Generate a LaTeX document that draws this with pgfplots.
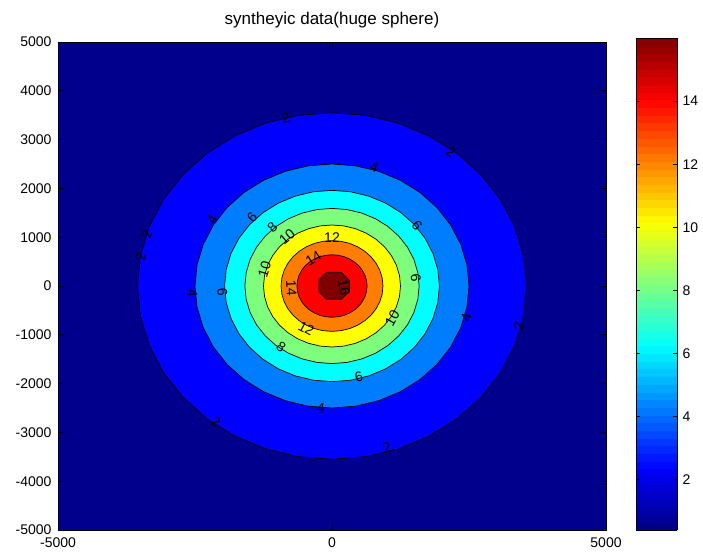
\documentclass[border=0pt]{standalone}
\usepackage{fontspec}
\setmainfont{Liberation Sans}
\usepackage{pgfplots}
\usepackage{pgfplotstable}
\pgfplotsset{compat=1.18}

% fill colours of the contour bands (jet)
\definecolor{lev0}{RGB}{0,0,140}
\definecolor{lev2}{RGB}{0,0,255}
\definecolor{lev4}{RGB}{0,125,255}
\definecolor{lev6}{RGB}{0,255,255}
\definecolor{lev8}{RGB}{125,255,125}
\definecolor{lev10}{RGB}{255,255,0}
\definecolor{lev12}{RGB}{255,125,0}
\definecolor{lev14}{RGB}{255,0,0}
\definecolor{lev16}{RGB}{128,0,0}

% contour outline shape (unit radius, 10 degree steps)
\pgfplotstableread{
c s
1.0000 0.0000
0.9848 0.1736
0.9397 0.3420
0.8660 0.5000
0.7660 0.6428
0.6428 0.7660
0.5000 0.8660
0.3420 0.9397
0.1736 0.9848
0.0000 1.0000
-0.1736 0.9848
-0.3420 0.9397
-0.5000 0.8660
-0.6428 0.7660
-0.7660 0.6428
-0.8660 0.5000
-0.9397 0.3420
-0.9848 0.1736
-1.0000 0.0000
-0.9848 -0.1736
-0.9397 -0.3420
-0.8660 -0.5000
-0.7660 -0.6428
-0.6428 -0.7660
-0.5000 -0.8660
-0.3420 -0.9397
-0.1736 -0.9848
0.0000 -1.0000
0.1736 -0.9848
0.3420 -0.9397
0.5000 -0.8660
0.6428 -0.7660
0.7660 -0.6428
0.8660 -0.5000
0.9397 -0.3420
0.9848 -0.1736
1.0000 0.0000
}\unitcircle

% innermost contour (level 16), octagonal on the grid
\pgfplotstableread{
x y
320 110
170 280
-100 280
-240 130
-240 -110
-100 -270
170 -270
320 -110
320 110
}\peak

\begin{document}
\begin{tikzpicture}
\begin{axis}[
  at={(58pt,24pt)}, anchor=south west,
  width=548pt, height=488pt, scale only axis,
  xmin=-5000, xmax=5000, ymin=-5000, ymax=5000,
  xtick={-5000,0,5000},
  ytick={-5000,-4000,...,5000},
  tick align=inside,
  major tick length=5pt,
  tick style={black, line width=0.6pt},
  axis line style={black, line width=0.8pt},
  axis background/.style={fill=lev0},
  ticklabel style={font=\fontsize{14}{14}\selectfont},
  /pgf/number format/assume math mode=true,
  /pgf/number format/set thousands separator={},
  /pgf/number format/1000 sep={},
  yticklabel style={xshift=-3pt},
  xticklabel style={yshift=-4pt},
  title={syntheyic data(huge sphere)},
  title style={font=\fontsize{17}{17}\selectfont, at={(0.5,1)}, anchor=base, yshift=11pt},
  colormap/jet,
  point meta min=0.4, point meta max=16,
  colorbar sampled,
  colorbar style={
    at={(1.055,1.008)}, anchor=north west,
    scale only axis,
    width=41pt, height=492pt,
    samples=65,
    ytick={2,4,...,14},
    tick align=inside,
    major tick length=4pt,
    tick style={black, line width=0.6pt},
    axis line style={black, line width=0.8pt},
    yticklabel pos=right,
    yticklabel style={font=\fontsize{14}{14}\selectfont, xshift=2pt},
    /pgf/number format/assume math mode=true,
  },
  clip=true,
]
% filled contour bands, outermost level first
\addplot[draw=black, line width=0.7pt, fill=lev2]  table[x expr=3550*\thisrow{c}, y expr=3550*\thisrow{s}] {\unitcircle};
\addplot[draw=black, line width=0.7pt, fill=lev4]  table[x expr=2500*\thisrow{c}, y expr=2500*\thisrow{s}] {\unitcircle};
\addplot[draw=black, line width=0.7pt, fill=lev6]  table[x expr=1960*\thisrow{c}, y expr=1960*\thisrow{s}] {\unitcircle};
\addplot[draw=black, line width=0.7pt, fill=lev8]  table[x expr=1590*\thisrow{c}, y expr=1590*\thisrow{s}] {\unitcircle};
\addplot[draw=black, line width=0.7pt, fill=lev10] table[x expr=1250*\thisrow{c}, y expr=1250*\thisrow{s}] {\unitcircle};
\addplot[draw=black, line width=0.7pt, fill=lev12] table[x expr=930*\thisrow{c},  y expr=930*\thisrow{s}]  {\unitcircle};
\addplot[draw=black, line width=0.7pt, fill=lev14] table[x expr=640*\thisrow{c},  y expr=640*\thisrow{s}]  {\unitcircle};
\addplot[draw=black, line width=0.7pt, fill=lev16] table[x=x, y=y] {\peak};

% contour labels
\begin{scope}[every node/.style={font=\fontsize{14}{14}\selectfont, inner sep=0pt}]
\node[rotate=14]  at (axis cs:-840,3440) {2};
\node[rotate=-38] at (axis cs:2170,2750) {2};
\node[rotate=73]  at (axis cs:-3380,1050) {2};
\node[rotate=80]  at (axis cs:-3490,590) {2};
\node[rotate=76]  at (axis cs:3410,-840) {2};
\node[rotate=-37] at (axis cs:-2120,-2790) {2};
\node[rotate=17]  at (axis cs:1000,-3320) {2};
\node[rotate=-18] at (axis cs:770,2440) {4};
\node[rotate=58]  at (axis cs:-2190,1350) {4};
\node[rotate=-87] at (axis cs:-2550,-140) {4};
\node[rotate=75]  at (axis cs:2450,-640) {4};
\node[rotate=-5]  at (axis cs:-200,-2500) {4};
\node[rotate=46]  at (axis cs:-1460,1410) {6};
\node[rotate=-51] at (axis cs:1550,1250) {6};
\node[rotate=-87] at (axis cs:-2000,-120) {6};
\node[rotate=-84] at (axis cs:1530,160) {6};
\node[rotate=15]  at (axis cs:490,-1860) {6};
\node[rotate=42]  at (axis cs:-1090,1210) {8};
\node[rotate=-37] at (axis cs:-930,-1250) {8};
\node[rotate=40]  at (axis cs:-820,1000) {10};
\node[rotate=73]  at (axis cs:-1230,340) {10};
\node[rotate=60]  at (axis cs:1100,-660) {10};
\node              at (axis cs:0,990) {12};
\node[rotate=-28] at (axis cs:-470,-870) {12};
\node[rotate=32]  at (axis cs:-340,560) {14};
\node[rotate=-87] at (axis cs:-740,-40) {14};
\node[rotate=-80] at (axis cs:220,-30) {16};
\end{scope}
\end{axis}
\pgfresetboundingbox
\path (0,0) rectangle (703pt,554pt);
\end{tikzpicture}
\end{document}
